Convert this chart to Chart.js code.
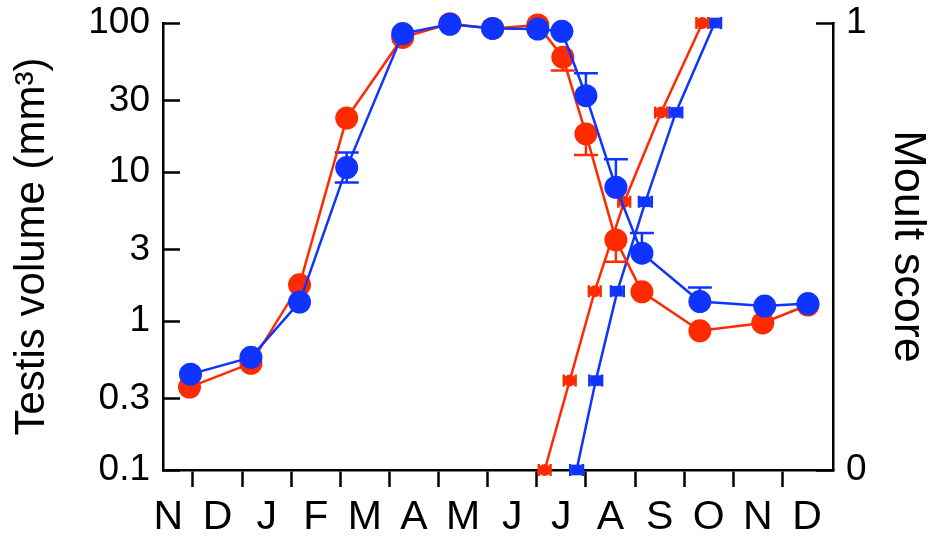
<!DOCTYPE html>
<html>
<head>
<meta charset="utf-8">
<script src="https://cdn.jsdelivr.net/npm/chart.js@4/dist/chart.umd.min.js"></script>
<style>
    body { margin: 0; background: #fff; }
    #wrap { width: 932px; height: 541px; position: relative; }
</style>
</head>
<body>
<div id="wrap"><canvas id="moultChart"></canvas></div>
<script>
// month labels sit between the ticks (ticks = month boundaries)
const months = ['N', 'D', 'J', 'F', 'M', 'A', 'M', 'J', 'J', 'A', 'S', 'O', 'N', 'D'];
const volumeTicks = [0.1, 0.3, 1, 3, 10, 30, 100];
const moultTicks = [0, 1];

// testis volume, time in months from start of November
const redTime = [0.93, 2.18, 3.17, 4.13, 5.27, 6.23, 7.1, 8.02, 8.53, 9.0, 9.61, 10.14, 11.32, 12.6, 13.52];
const redVolume = [0.36, 0.52, 1.75, 23, 80, 99, 92, 97, 59, 18, 3.5, 1.57, 0.86, 0.97, 1.28];
const redErrLow = [null, null, null, null, null, null, null, null, 48, 13, 2.5, null, null, null, null];
const redErrHigh = [null, null, null, null, null, null, null, null, null, null, null, null, null, null, null];

const blueTime = [0.95, 2.18, 3.17, 4.13, 5.27, 6.23, 7.1, 8.02, 8.51, 9.0, 9.61, 10.14, 11.32, 12.64, 13.52];
const blueVolume = [0.44, 0.57, 1.34, 10.7, 85, 98, 92, 91, 88, 32.5, 7.9, 2.85, 1.35, 1.26, 1.31];
const blueErrLow = [null, null, null, 8.5, null, null, null, null, null, null, null, null, null, null, null];
const blueErrHigh = [null, null, null, 13.5, null, null, null, null, null, 46, 12.2, 3.9, 1.68, null, null];

// moult score
const redMoultTime = [8.16, 8.67, 9.18, 9.78, 10.53, 11.37];
const redMoult = [0, 0.2, 0.4, 0.6, 0.8, 1];
const redMoultErr = [0.12, 0.12, 0.12, 0.12, 0.12, 0.12];
const blueMoultTime = [8.81, 9.2, 9.64, 10.21, 10.83, 11.62];
const blueMoult = [0, 0.2, 0.4, 0.6, 0.8, 1];
const blueMoultErr = [0.13, 0.13, 0.13, 0.13, 0.13, 0.13];

const RED = '#ff2b00';
const BLUE = '#1034ff';
const FONT = "'Liberation Sans', Arial, sans-serif";

function toPoints(xs, ys) {
    return xs.map((x, i) => ({ x: x, y: ys[i] }));
}

// draws the error bars behind the markers
const errorBars = {
    id: 'errorBars',
    beforeDatasetsDraw(chart) {
        const ctx = chart.ctx;
        ctx.save();
        chart.data.datasets.forEach(ds => {
            const xs = chart.scales.x;
            const ys = chart.scales[ds.yAxisID];
            ctx.strokeStyle = ds.borderColor;
            ctx.lineWidth = 2.5;
            ds.data.forEach((p, i) => {
                const px = xs.getPixelForValue(p.x);
                const py = ys.getPixelForValue(p.y);
                [ds.errLow, ds.errHigh].forEach(arr => {
                    if (!arr || arr[i] == null) return;
                    const ey = ys.getPixelForValue(arr[i]);
                    ctx.beginPath();
                    ctx.moveTo(px, py);
                    ctx.lineTo(px, ey);
                    ctx.moveTo(px - 12, ey);
                    ctx.lineTo(px + 12, ey);
                    ctx.stroke();
                });
                if (ds.xErr) {
                    const x1 = xs.getPixelForValue(p.x - ds.xErr[i]);
                    const x2 = xs.getPixelForValue(p.x + ds.xErr[i]);
                    ctx.beginPath();
                    ctx.moveTo(x1, py);
                    ctx.lineTo(x2, py);
                    ctx.moveTo(x1, py - 6);
                    ctx.lineTo(x1, py + 6);
                    ctx.moveTo(x2, py - 6);
                    ctx.lineTo(x2, py + 6);
                    ctx.stroke();
                }
            });
        });
        ctx.restore();
    }
};

const xTickValues = [];
for (let k = 1; k <= 13; k++) xTickValues.push(k);
months.forEach((m, i) => xTickValues.push(i + 0.5));
xTickValues.sort((a, b) => a - b);

// fixed box sizes so the plot area lands where the reference has it
function fixWidth(w) {
    return s => {
        s.width = w;
        s.paddingTop = 0;
        s.paddingBottom = 0;
    };
}

const canvas = document.getElementById('moultChart');
new Chart(canvas.getContext('2d'), {
    type: 'line',
    data: {
        datasets: [{
            data: toPoints(blueTime, blueVolume),
            errLow: blueErrLow,
            errHigh: blueErrHigh,
            yAxisID: 'y',
            borderColor: BLUE,
            backgroundColor: BLUE,
            borderWidth: 2.5,
            pointRadius: 11.5,
            pointBorderWidth: 0,
            clip: false,
            order: 1
        }, {
            data: toPoints(redTime, redVolume),
            errLow: redErrLow,
            errHigh: redErrHigh,
            yAxisID: 'y',
            borderColor: RED,
            backgroundColor: RED,
            borderWidth: 2.5,
            pointRadius: 11.5,
            pointBorderWidth: 0,
            clip: false,
            order: 2
        }, {
            data: toPoints(blueMoultTime, blueMoult),
            xErr: blueMoultErr,
            yAxisID: 'y2',
            borderColor: BLUE,
            backgroundColor: BLUE,
            borderWidth: 2.5,
            pointStyle: 'rect',
            pointRadius: 7.5,
            pointBorderWidth: 0,
            clip: false,
            order: 3
        }, {
            data: toPoints(redMoultTime, redMoult),
            xErr: redMoultErr,
            yAxisID: 'y2',
            borderColor: RED,
            backgroundColor: RED,
            borderWidth: 2.5,
            pointRadius: 6,
            pointBorderWidth: 0,
            clip: false,
            order: 4
        }]
    },
    options: {
        responsive: true,
        maintainAspectRatio: false,
        animation: false,
        layout: { padding: { top: 23, left: 0, right: 0, bottom: 0 } },
        plugins: { legend: { display: false }, tooltip: { enabled: false } },
        scales: {
            x: {
                type: 'linear',
                min: 0.39,
                max: 14.03,
                afterBuildTicks: s => { s.ticks = xTickValues.map(v => ({ value: v })); },
                afterFit: s => {
                    s.height = 71;
                    s.paddingLeft = 0;
                    s.paddingRight = 0;
                },
                border: { display: true, color: '#000', width: 2.5 },
                grid: {
                    drawOnChartArea: false,
                    tickLength: 17,
                    tickWidth: 2.5,
                    tickColor: c => Number.isInteger(c.tick.value) ? '#000' : 'rgba(0,0,0,0)'
                },
                ticks: {
                    autoSkip: false,
                    maxRotation: 0,
                    padding: 6,
                    color: '#000',
                    font: { family: FONT, size: 41, lineHeight: 1.2 },
                    callback: v => Number.isInteger(v) ? '' : months[Math.floor(v)]
                }
            },
            y: {
                type: 'logarithmic',
                position: 'left',
                min: 0.1,
                max: 100,
                afterBuildTicks: s => { s.ticks = volumeTicks.map(v => ({ value: v })); },
                afterFit: fixWidth(163),
                border: { display: true, color: '#000', width: 2.5 },
                grid: { drawOnChartArea: false, tickLength: -17, tickWidth: 2.5, tickColor: '#000' },
                ticks: {
                    padding: 30,
                    color: '#000',
                    font: { family: FONT, size: 37 },
                    callback: v => String(v)
                },
                title: {
                    display: true,
                    text: 'Testis volume (mm³)',
                    color: '#000',
                    font: { family: FONT, size: 42, lineHeight: 1.2 },
                    padding: { top: 7, bottom: 0 }
                }
            },
            y2: {
                type: 'linear',
                position: 'right',
                min: 0,
                max: 1,
                afterBuildTicks: s => { s.ticks = moultTicks.map(v => ({ value: v })); },
                afterFit: fixWidth(99),
                border: { display: true, color: '#000', width: 2.5 },
                grid: { drawOnChartArea: false, tickLength: -17, tickWidth: 2.5, tickColor: '#000' },
                ticks: {
                    padding: 30,
                    color: '#000',
                    font: { family: FONT, size: 37 },
                    callback: v => String(v)
                },
                title: {
                    display: true,
                    text: 'Moult score',
                    color: '#000',
                    font: { family: FONT, size: 45, lineHeight: 1 },
                    padding: { top: 2, bottom: 0 }
                }
            }
        }
    },
    plugins: [errorBars]
});
</script>
</body>
</html>
